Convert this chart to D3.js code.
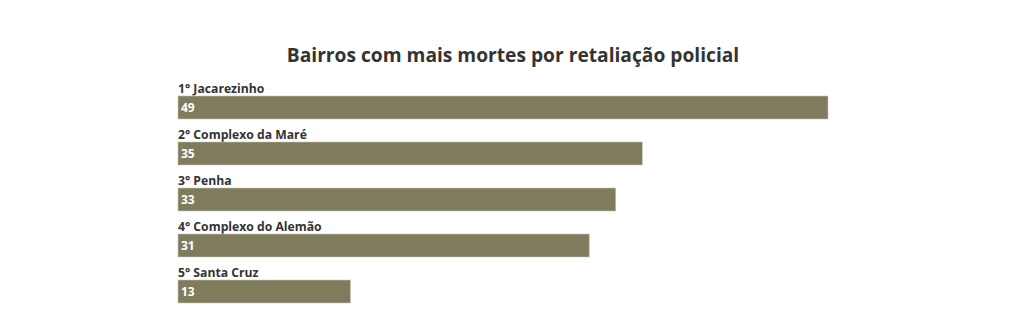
<!DOCTYPE html>
<html>
<head>
<meta charset="utf-8">
<script src="https://cdn.jsdelivr.net/npm/d3@7"></script>
<style>
  body { margin: 0; background: #fff; }
  svg { display: block; }
</style>
</head>
<body>
<svg id="chart"></svg>
<script>
const bairros = ["1° Jacarezinho", "2° Complexo da Maré", "3° Penha", "4° Complexo do Alemão", "5° Santa Cruz"];
const mortes = [49, 35, 33, 31, 13];
const titulo = "Bairros com mais mortes por retaliação policial";

const width = 1024;
const height = 328;

const svg = d3.select("#chart")
    .attr("width", width)
    .attr("height", height);

svg.append("text")
    .attr("x", width / 2 + 1)
    .attr("y", 62)
    .attr("text-anchor", "middle")
    .style("font-family", "'Open Sans', sans-serif")
    .style("font-weight", 700)
    .style("font-size", "19.2px")
    .style("fill", "#333")
    .text(titulo);

const x = d3.scaleLinear()
    .domain([0, d3.max(mortes)])
    .range([178, 828]);

// each row = label + bar, 46px apart
const y = d3.scaleBand()
    .domain(bairros)
    .range([96, 326])
    .paddingInner(0)
    .paddingOuter(0);

const rows = svg.append("g")
    .selectAll("g")
    .data(bairros)
    .enter()
    .append("g")
    .attr("transform", function (d) { return "translate(0," + y(d) + ")"; });

rows.append("text")
    .attr("x", x(0))
    .attr("y", -3)
    .style("font-family", "'Open Sans', sans-serif")
    .style("font-weight", 700)
    .style("font-size", "12.2px")
    .style("fill", "#333")
    .text(function (d) { return d; });

rows.append("rect")
    .attr("x", x(0))
    .attr("y", 0)
    .attr("height", 23)
    .attr("width", function (d, i) { return x(mortes[i]) - x(0); })
    .attr("fill", "#7f7b5d")
    .attr("stroke", "#c9c6b4")
    .attr("stroke-width", 0.6);

rows.append("text")
    .attr("x", x(0) + 3)
    .attr("y", 16)
    .style("font-family", "'Open Sans', sans-serif")
    .style("font-weight", 700)
    .style("font-size", "12px")
    .style("fill", "#fff")
    .text(function (d, i) { return mortes[i]; });
</script>
</body>
</html>
